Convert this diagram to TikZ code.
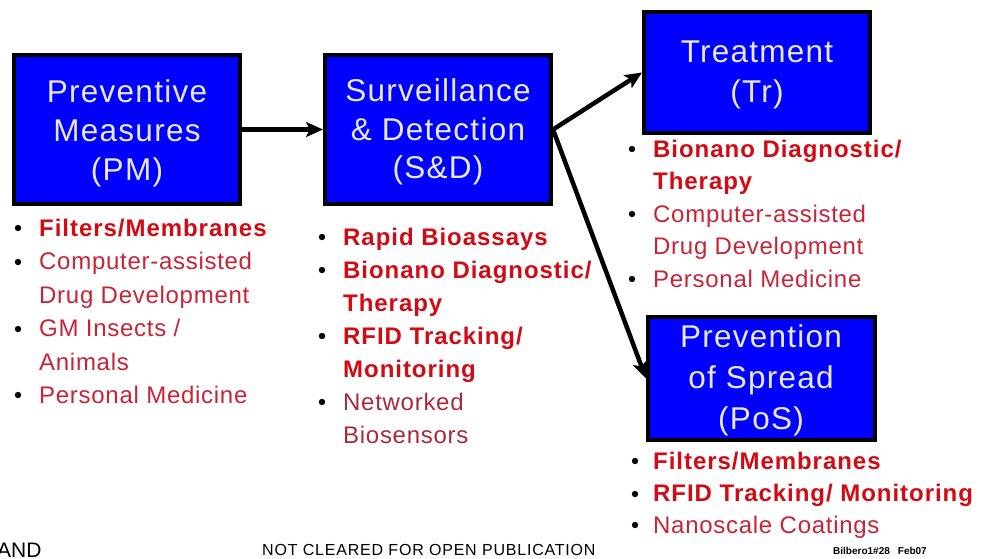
\documentclass[tikz,border=0pt]{standalone}
\usepackage{fontspec}
\setmainfont{Liberation Sans}
\newfontfamily\boxfont[LetterSpace=4]{Liberation Sans}
\newfontfamily\listfont[LetterSpace=3]{Liberation Sans}
\newfontfamily\listfontb[LetterSpace=4]{Liberation Sans}
\newfontfamily\footfont[LetterSpace=5]{Liberation Sans}
\usetikzlibrary{arrows.meta}
\definecolor{boxblue}{RGB}{0,0,255}
\definecolor{boxtext}{RGB}{232,232,232}
\definecolor{redbold}{RGB}{210,10,20}
\definecolor{redreg}{RGB}{200,35,55}
\definecolor{reddark}{RGB}{170,40,60}
\begin{document}
\begin{tikzpicture}[x=1pt,y=-1pt,
  stagebox/.style={draw=black,fill=boxblue,line width=4pt,rectangle,inner sep=0pt},
  boxtxt/.style={anchor=base,inner sep=0pt,text=boxtext,font=\boxfont\fontsize{31.5}{40}\selectfont},
  itemb/.style={anchor=base west,inner sep=0pt,text=redbold,font=\listfontb\fontsize{24}{33}\selectfont\bfseries},
  itemr/.style={anchor=base west,inner sep=0pt,text=redreg,font=\listfont\fontsize{24}{33}\selectfont},
  bul/.style={fill=black},
  flow/.style={line width=4.5pt,-{Stealth[length=17pt,width=15pt,inset=4pt]}}
]
\useasboundingbox (0,0) rectangle (985,558);

% boxes
\node[stagebox,minimum width=226pt,minimum height=149pt] (pm) at (127,129.5) {};
\node[stagebox,minimum width=226pt,minimum height=149pt] (sd) at (438,129.5) {};
\node[stagebox,minimum width=226pt,minimum height=121pt] (tr) at (757,72.5) {};
\node[stagebox,minimum width=227pt,minimum height=123pt] (pos) at (761.5,378.5) {};

% box texts
\node[boxtxt] (pm1) at (127,102) {Preventive};
\node[boxtxt] (pm2) at (127,141) {Measures};
\node[boxtxt] (pm3) at (127,180) {(PM)};
\node[boxtxt] (sd1) at (438,101) {Surveillance};
\node[boxtxt] (sd2) at (438,140) {\& Detection};
\node[boxtxt] (sd3) at (438,178) {(S\&D)};
\node[boxtxt] (tr1) at (757,62) {Treatment};
\node[boxtxt] (tr2) at (757,102) {(Tr)};
\node[boxtxt] (pos1) at (761,347) {Prevention};
\node[boxtxt] (pos2) at (761,388) {of Spread};
\node[boxtxt] (pos3) at (761,429) {(PoS)};

% arrows
\draw[flow] (pm.east) -- (sd.west);
\draw[flow] (sd.east) -- (tr.west);
\draw[flow] (sd.east) -- (pos.west);

% PM list
\fill[bul] (18,228) circle (3.2);
\node[itemb] (pma) at (39,236) {Filters/Membranes};
\fill[bul] (18,262) circle (3.2);
\node[itemr] (pmb) at (39,269.5) {Computer-assisted};
\node[itemr] (pmc) at (39,303) {Drug Development};
\fill[bul] (18,329) circle (3.2);
\node[itemr] (pmd) at (39,336.5) {GM Insects /};
\node[itemr] (pme) at (39,370) {Animals};
\fill[bul] (18,395) circle (3.2);
\node[itemr] (pmf) at (39,403) {Personal Medicine};

% S&D list
\fill[bul] (322,237) circle (3.2);
\node[itemb] (sda) at (343,245) {Rapid Bioassays};
\fill[bul] (322,270) circle (3.2);
\node[itemb] (sdb) at (343,278) {Bionano Diagnostic/};
\node[itemb] (sdc) at (343,311) {Therapy};
\fill[bul] (322,336) circle (3.2);
\node[itemb] (sdd) at (343,344) {RFID Tracking/};
\node[itemb] (sde) at (343,377) {Monitoring};
\fill[bul] (322,402) circle (3.2);
\node[itemr,text=reddark] (sdf) at (343,410) {Networked};
\node[itemr,text=reddark] (sdg) at (343,443) {Biosensors};

% Tr list
\fill[bul] (632,149) circle (3.2);
\node[itemb] (tra) at (653,157) {Bionano Diagnostic/};
\node[itemb] (trb) at (653,189) {Therapy};
\fill[bul] (632,214) circle (3.2);
\node[itemr] (trc) at (653,222) {Computer-assisted};
\node[itemr] (trd) at (653,254) {Drug Development};
\fill[bul] (632,279) circle (3.2);
\node[itemr] (tre) at (653,287) {Personal Medicine};

% PoS list
\fill[bul] (635,461) circle (3.2);
\node[itemb] (posa) at (653,469) {Filters/Membranes};
\fill[bul] (635,494) circle (3.2);
\node[itemb] (posb) at (653,501) {RFID Tracking/ Monitoring};
\fill[bul] (635,525) circle (3.2);
\node[itemr] (posc) at (653,533) {Nanoscale Coatings};

% footer
\node[anchor=base west,inner sep=0pt,font=\fontsize{21}{24}\selectfont] (andtxt) at (-3,557) {AND};
\node[anchor=base west,inner sep=0pt,font=\footfont\fontsize{16}{18}\selectfont] (notc) at (262,555) {NOT CLEARED FOR OPEN PUBLICATION};
\node[anchor=base west,inner sep=0pt,font=\fontsize{10}{12}\selectfont\bfseries] (foot) at (833,554) {Bilbero1\#28\hspace{8pt}Feb07};
\end{tikzpicture}
\end{document}
